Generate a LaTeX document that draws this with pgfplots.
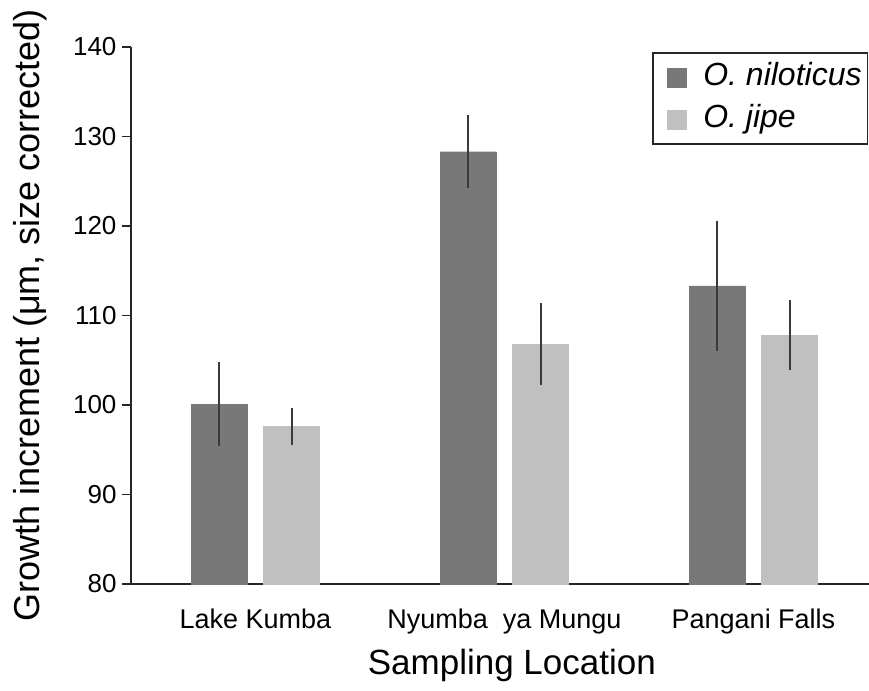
\documentclass[border=0pt]{standalone}
\usepackage{fontspec}
\setmainfont{Liberation Sans}
\usepackage{pgfplots}
\pgfplotsset{compat=1.18}

\definecolor{darkbar}{HTML}{787878}
\definecolor{lightbar}{HTML}{C0C0C0}
\definecolor{errc}{HTML}{3A3A3A}

\begin{document}
\begin{tikzpicture}
\begin{axis}[
    scale only axis,
    width=738pt, height=537pt,
    xmin=0.5, xmax=3.464,
    ymin=80, ymax=140,
    ytick={80,90,...,140},
    xtick={1,2,3},
    xticklabels={Lake Kumba, Nyumba\ \ ya Mungu, Pangani Falls},
    axis x line=bottom, axis y line=left,
    axis line style={-, line width=1.3pt, black!85},
    x tick style={draw=none},
    y tick style={line width=1.3pt, black!85},
    tick align=outside,
    major tick length=9pt,
    /pgf/number format/assume math mode=true,
    yticklabel style={font=\fontsize{26}{30}\selectfont, xshift=-2pt},
    xticklabel style={font=\fontsize{27}{32}\selectfont, yshift=-12pt},
    xlabel={Sampling Location},
    ylabel={Growth increment (μm, size corrected)},
    xlabel style={font=\fontsize{35}{40}\selectfont, at={(axis description cs:0.516,-0.151)}, anchor=center},
    ylabel style={font=\fontsize{36}{40}\selectfont, at={(axis description cs:-0.137,0.5)}, anchor=center},
    legend style={at={(axis description cs:0.999,0.99)}, anchor=north east,
        draw=black!85, line width=1.3pt, font=\fontsize{32}{36}\selectfont\itshape,
        inner xsep=4pt, inner ysep=7pt, row sep=7pt,
        cells={anchor=west},
        nodes={text height=23pt, text depth=8pt}},
    legend image code/.code={
        \path[#1, draw=none] (0pt,-10pt) rectangle (20pt,10pt);
        \path (-9pt,0pt) (34pt,0pt);},
]
\coordinate (O) at (rel axis cs:0,0);

% O. niloticus, bars placed left of each location
\addplot[ybar, bar width=0.225, bar shift=0, color=darkbar, fill=darkbar,
    error bars/.cd, y dir=both, y explicit, error mark=none,
    error bar style={draw=errc, line width=2pt}]
    coordinates {
    (0.855,100.1) +- (0,4.7)
    (1.855,128.3) +- (0,4.1)
    (2.855,113.3) +- (0,7.3)
    };
\addlegendentry{O. niloticus}

% O. jipe, bars placed right of each location
\addplot[ybar, bar width=0.225, bar shift=0, color=lightbar, fill=lightbar,
    error bars/.cd, y dir=both, y explicit, error mark=none,
    error bar style={draw=errc, line width=2pt}]
    coordinates {
    (1.145,97.6) +- (0,2.1)
    (2.145,106.8) +- (0,4.6)
    (3.145,107.8) +- (0,3.9)
    };
\addlegendentry{O. jipe}
\end{axis}
\pgfresetboundingbox
\path ([shift={(-131pt,-106pt)}]O) rectangle ([shift={(738pt,584pt)}]O);
\end{tikzpicture}
\end{document}
